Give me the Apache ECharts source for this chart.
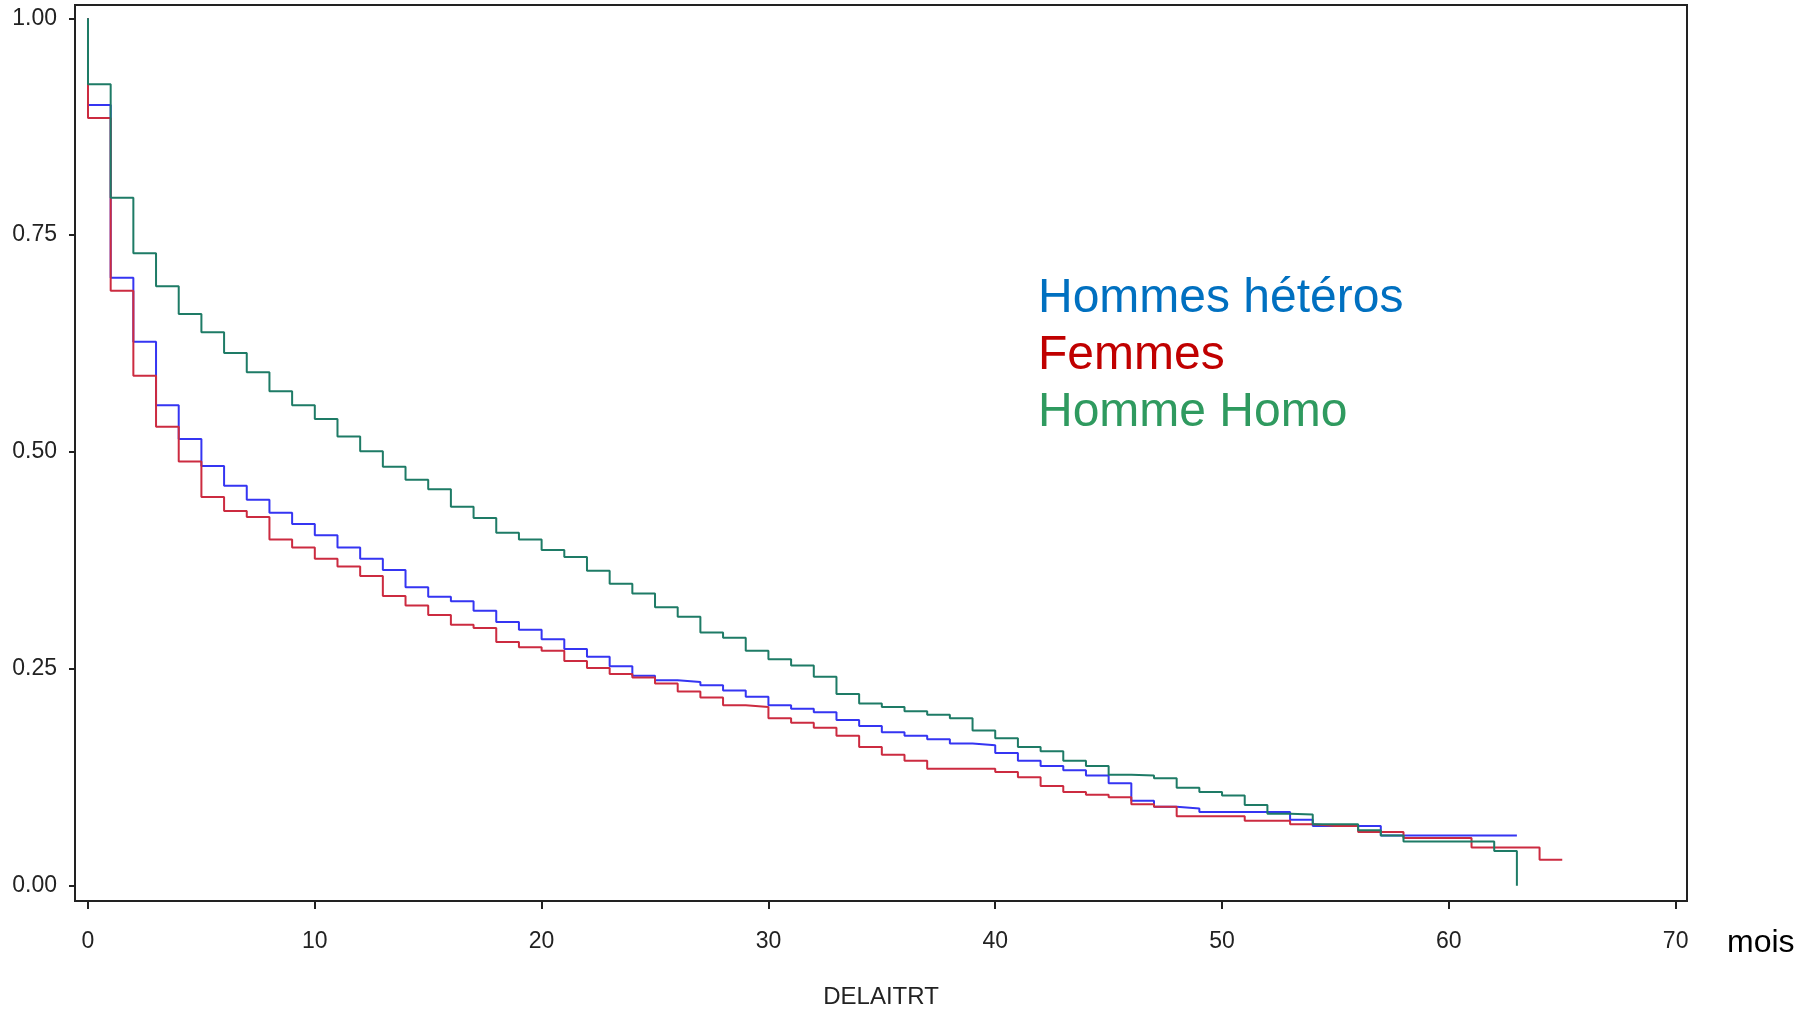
<!DOCTYPE html>
<html>
<head>
<meta charset="utf-8">
<script src="https://cdn.jsdelivr.net/npm/echarts@6/dist/echarts.min.js"></script>
<style>
  html, body { margin: 0; padding: 0; background: #fff; }
  #main { width: 1804px; height: 1009px; }
</style>
</head>
<body>
<div id="main"></div>
<script>
// survie (Kaplan-Meier) par mois, valeur sur [mois, mois+1)
const names = ["Hommes hétéros", "Femmes", "Homme Homo"];
const xTicks = [0, 10, 20, 30, 40, 50, 60, 70];
const yTicks = [0, 0.25, 0.5, 0.75, 1];

const hetero = [
  0.900, 0.701, 0.627, 0.554, 0.515, 0.484, 0.461, 0.445, 0.430, 0.417,
  0.404, 0.390, 0.377, 0.364, 0.344, 0.333, 0.328, 0.317, 0.304, 0.295,
  0.284, 0.273, 0.264, 0.253, 0.242, 0.237, 0.235, 0.231, 0.225, 0.218,
  0.208, 0.204, 0.200, 0.191, 0.184, 0.177, 0.173, 0.169, 0.164, 0.162,
  0.153, 0.144, 0.138, 0.133, 0.127, 0.118, 0.098, 0.091, 0.089, 0.085,
  0.085, 0.085, 0.085, 0.076, 0.069, 0.069, 0.069, 0.058, 0.058, 0.058,
  0.058, 0.058, 0.058
];
const heteroEnd = 63;

const femmes = [
  0.885, 0.686, 0.588, 0.529, 0.489, 0.448, 0.432, 0.425, 0.399, 0.390,
  0.377, 0.368, 0.357, 0.334, 0.323, 0.312, 0.301, 0.297, 0.281, 0.275,
  0.271, 0.259, 0.251, 0.244, 0.240, 0.233, 0.224, 0.217, 0.208, 0.206,
  0.193, 0.188, 0.182, 0.173, 0.160, 0.151, 0.144, 0.135, 0.135, 0.135,
  0.131, 0.125, 0.115, 0.108, 0.105, 0.102, 0.094, 0.091, 0.080, 0.080,
  0.080, 0.075, 0.075, 0.071, 0.069, 0.069, 0.062, 0.062, 0.055, 0.055,
  0.055, 0.044, 0.044, 0.044, 0.030
];
const femmesEnd = 65;

const homo = [
  0.924, 0.793, 0.729, 0.691, 0.659, 0.638, 0.614, 0.592, 0.570, 0.554,
  0.538, 0.518, 0.501, 0.483, 0.468, 0.457, 0.437, 0.424, 0.407, 0.399,
  0.387, 0.379, 0.363, 0.348, 0.337, 0.321, 0.310, 0.292, 0.286, 0.271,
  0.261, 0.254, 0.241, 0.221, 0.210, 0.206, 0.201, 0.197, 0.193, 0.179,
  0.170, 0.160, 0.155, 0.144, 0.138, 0.128, 0.127, 0.124, 0.113, 0.108,
  0.104, 0.093, 0.083, 0.082, 0.071, 0.071, 0.064, 0.058, 0.051, 0.051,
  0.051, 0.051, 0.040, 0
];
const homoEnd = 63;

function steps(values, end) {
  let d = [[0, 1]];
  values.forEach((v, i) => d.push([i, v]));
  d.push([end, values[values.length - 1]]);
  return d;
}

let chart = echarts.init(document.getElementById("main"));
let tickFont = { fontFamily: "Liberation Sans", fontSize: 23, color: "#222" };

let option = {
  animation: false,
  grid: {
    show: true,
    left: 75,
    top: 5,
    right: 117,
    bottom: 108,
    outerBoundsMode: "none",
    borderColor: "#222",
    borderWidth: 2,
  },
  legend: {
    orient: "vertical",
    left: 1032,
    top: 270,
    padding: 0,
    itemGap: 0,
    itemWidth: 0,
    itemHeight: 0,
    selectedMode: false,
    itemStyle: { opacity: 0 },
    lineStyle: { opacity: 0 },
    textStyle: { fontFamily: "Liberation Sans", fontSize: 48, lineHeight: 57 },
    data: [
      { name: names[0], textStyle: { color: "#0070C0" } },
      { name: names[1], textStyle: { color: "#C00000" } },
      { name: names[2], textStyle: { color: "#2F9A5F" } },
    ],
  },
  graphic: [
    {
      type: "text",
      left: 1727,
      top: 927,
      style: { text: "mois", fontFamily: "Liberation Sans", fontSize: 32, fill: "#000" },
    },
  ],
  xAxis: {
    type: "value",
    min: -0.573,
    max: 70.5,
    name: "DELAITRT",
    nameLocation: "middle",
    nameGap: 84,
    nameTextStyle: { fontFamily: "Liberation Sans", fontSize: 24, color: "#222" },
    axisLine: { show: false, onZero: false },
    splitLine: { show: false },
    axisTick: { customValues: xTicks, length: 8, lineStyle: { color: "#222", width: 2 } },
    axisLabel: Object.assign({ customValues: xTicks, margin: 29 }, tickFont),
  },
  yAxis: {
    type: "value",
    min: -0.0176,
    max: 1.0153,
    axisLine: { show: false, onZero: false },
    splitLine: { show: false },
    axisTick: { customValues: yTicks, length: 6, lineStyle: { color: "#222", width: 2 } },
    axisLabel: Object.assign(
      { customValues: yTicks, margin: 18, formatter: (v) => v.toFixed(2) },
      tickFont
    ),
  },
  series: [
    {
      name: names[0],
      type: "line",
      step: "end",
      symbol: "none",
      color: "#3535F2",
      lineStyle: { width: 2 },
      data: steps(hetero, heteroEnd),
    },
    {
      name: names[1],
      type: "line",
      step: "end",
      symbol: "none",
      color: "#CC2B40",
      lineStyle: { width: 2 },
      data: steps(femmes, femmesEnd),
    },
    {
      name: names[2],
      type: "line",
      step: "end",
      symbol: "none",
      color: "#1E7B66",
      lineStyle: { width: 2 },
      data: steps(homo, homoEnd),
    },
  ],
};
chart.setOption(option);
</script>
</body>
</html>
